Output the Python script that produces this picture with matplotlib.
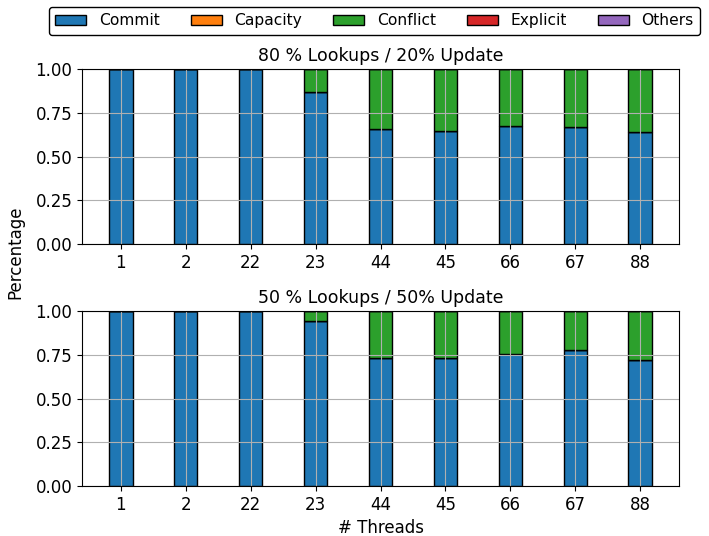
import numpy as np
import matplotlib.pyplot as plt

threads = ["1", "2", "22", "23", "44", "45", "66", "67", "88"]
labels = ["Commit", "Capacity", "Conflict", "Explicit", "Others"]
colors = ["#1f77b4", "#ff7f0e", "#2ca02c", "#d62728", "#9467bd"]

# 80 % lookups / 20 % update
commit_80 = [1.0, 1.0, 1.0, 0.868, 0.66, 0.648, 0.675, 0.67, 0.64]
capacity_80 = [0, 0, 0, 0, 0, 0, 0, 0, 0]
explicit_80 = [0, 0, 0, 0, 0, 0, 0, 0, 0]
others_80 = [0, 0, 0, 0, 0, 0, 0, 0, 0]

# 50 % lookups / 50 % update
commit_50 = [1.0, 1.0, 1.0, 0.945, 0.73, 0.73, 0.755, 0.78, 0.72]
capacity_50 = [0, 0, 0, 0, 0, 0, 0, 0, 0]
explicit_50 = [0, 0, 0, 0, 0, 0, 0, 0, 0]
others_50 = [0, 0, 0, 0, 0, 0, 0, 0, 0]


def series(commit, capacity, explicit, others):
    commit = np.array(commit)
    capacity = np.array(capacity)
    explicit = np.array(explicit)
    others = np.array(others)
    conflict = 1 - commit - capacity - explicit - others
    return [commit, capacity, conflict, explicit, others]


panels = [
    ("80 % Lookups / 20% Update", series(commit_80, capacity_80, explicit_80, others_80)),
    ("50 % Lookups / 50% Update", series(commit_50, capacity_50, explicit_50, others_50)),
]

plt.rcParams["font.size"] = 12

fig = plt.figure(figsize=(7.09, 5.36), dpi=100)
ax1 = fig.add_axes([82 / 709, 1 - 244 / 536, 597 / 709, 175 / 536])
ax2 = fig.add_axes([82 / 709, 1 - 486 / 536, 597 / 709, 175 / 536])

x = np.arange(len(threads))
width = 0.36
for ax, (title, data) in zip([ax1, ax2], panels):
    bottom = np.zeros(len(threads))
    for vals, lab, c in zip(data, labels, colors):
        ax.bar(x, vals, width, bottom=bottom, color=c, edgecolor="black", label=lab)
        bottom += vals
    ax.set_title(title, fontsize=12.5)
    ax.set_xticks(x)
    ax.set_xticklabels(threads)
    ax.set_ylim(0, 1)
    ax.set_yticks([0, 0.25, 0.5, 0.75, 1.0])
    ax.grid(True)

ax2.set_xlabel("# Threads")
fig.text(15 / 709, 1 - 252 / 536, "Percentage", rotation=90, va="center", ha="center")

handles, labs = ax1.get_legend_handles_labels()
leg = fig.legend(handles, labs, loc="center", ncol=5, bbox_to_anchor=(374.5 / 709, 1 - 21 / 536),
                 fontsize=11.2, edgecolor="black", framealpha=1)

fig.savefig("out.png", dpi=100)
